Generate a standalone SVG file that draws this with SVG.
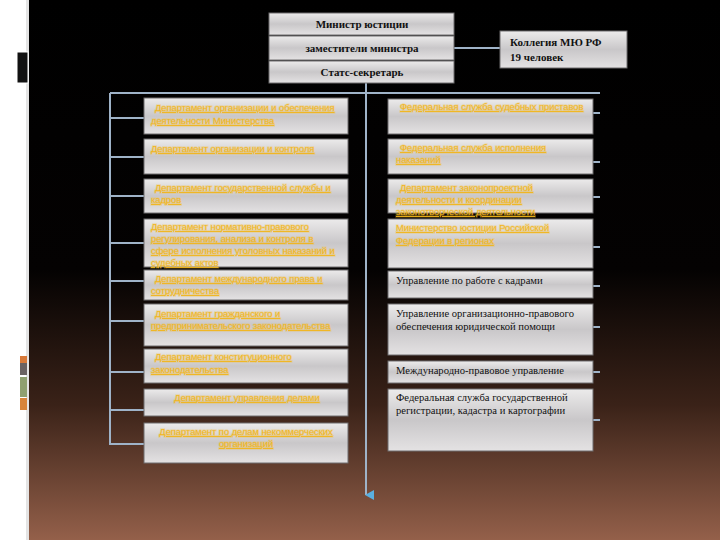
<svg xmlns="http://www.w3.org/2000/svg" width="720" height="540" viewBox="0 0 720 540">
<defs>
<linearGradient id="bg" x1="0" y1="0" x2="0" y2="1">
<stop offset="0" stop-color="#000"/>
<stop offset="0.5" stop-color="#040202"/>
<stop offset="0.75" stop-color="#3a2218"/>
<stop offset="1" stop-color="#94604a"/>
</linearGradient>
<linearGradient id="box" x1="0" y1="0" x2="0" y2="1">
<stop offset="0" stop-color="#ecebeb"/>
<stop offset="0.5" stop-color="#c9c7c9"/>
<stop offset="1" stop-color="#e4e2e3"/>
</linearGradient>
<marker id="arr" markerWidth="10" markerHeight="10" refX="5" refY="8" orient="auto" markerUnits="userSpaceOnUse">
<path d="M0,0 L10,0 L5,9 Z" fill="#5ab0e0"/>
</marker>
</defs>
<style>
.b{fill:url(#box);stroke:#6e6c6e;stroke-width:1}
.t{font-family:"Liberation Serif","DejaVu Serif",serif;font-size:10.6px;fill:#111}
.h{font-family:"Liberation Serif","DejaVu Serif",serif;font-size:11px;font-weight:bold;fill:#111}
.y{font-family:"Liberation Sans","DejaVu Sans",sans-serif;font-size:9.3px;fill:#f2b51c;text-decoration:underline;stroke:rgba(245,190,40,0.3);stroke-width:1.6;paint-order:stroke}
.c{fill:none;stroke:#9fb3c8;stroke-width:2}
</style>
<rect width="720" height="540" fill="#fff"/>
<rect x="26" y="0" width="3" height="540" fill="#e4e4e4"/>
<rect x="29" y="0" width="691" height="540" fill="url(#bg)"/>
<rect x="17" y="52" width="11" height="31" fill="#111" stroke="#fff" stroke-width="1"/>
<rect x="20" y="356" width="7" height="7" fill="#d87a3a"/>
<rect x="20" y="363" width="7" height="12" fill="#6a6262"/>
<rect x="20" y="377" width="7" height="20" fill="#8fa070"/>
<rect x="20" y="398" width="7" height="12" fill="#d8843a"/>

<g id="connectors">
<line class="c" x1="454" y1="48" x2="500" y2="48"/>
<line class="c" x1="366" y1="83" x2="366" y2="495" marker-end="url(#arr)"/>
<line class="c" x1="110" y1="93" x2="600" y2="93"/>
<line class="c" x1="110" y1="93" x2="110" y2="445"/>
<line class="c" x1="110" y1="118" x2="144" y2="118"/>
<line class="c" x1="110" y1="157" x2="144" y2="157"/>
<line class="c" x1="110" y1="196" x2="144" y2="196"/>
<line class="c" x1="110" y1="243" x2="144" y2="243"/>
<line class="c" x1="110" y1="281" x2="144" y2="281"/>
<line class="c" x1="110" y1="321" x2="144" y2="321"/>
<line class="c" x1="110" y1="372" x2="144" y2="372"/>
<line class="c" x1="110" y1="410" x2="144" y2="410"/>
<line class="c" x1="110" y1="444" x2="144" y2="444"/>
<line class="c" x1="593" y1="113" x2="600" y2="113"/>
<line class="c" x1="593" y1="162" x2="600" y2="162"/>
<line class="c" x1="593" y1="197" x2="600" y2="197"/>
<line class="c" x1="593" y1="247" x2="600" y2="247"/>
<line class="c" x1="593" y1="286" x2="600" y2="286"/>
<line class="c" x1="593" y1="327" x2="600" y2="327"/>
<line class="c" x1="593" y1="372" x2="600" y2="372"/>
<line class="c" x1="593" y1="420" x2="600" y2="420"/>
</g>

<g id="top">
<rect class="b" x="269" y="13" width="185" height="22"/>
<text class="h" x="362" y="28" text-anchor="middle">Министр юстиции</text>
<rect class="b" x="269" y="36" width="185" height="24"/>
<text class="h" x="362" y="52" text-anchor="middle">заместители министра</text>
<rect class="b" x="269" y="61" width="185" height="22"/>
<text class="h" x="362" y="76" text-anchor="middle">Статс-секретарь</text>
</g>

<g id="kollegia">
<rect class="b" x="500" y="31" width="127" height="37"/>
<text class="h" x="510" y="46">Коллегия МЮ РФ</text>
<text class="h" x="510" y="61">19 человек</text>
</g>

<g id="l1"><rect class="b" x="144" y="98" width="204" height="36"/>
<text class="y" x="155" y="111">Департамент организации и обеспечения</text>
<text class="y" x="151" y="124">деятельности Министерства</text></g>
<g id="l2"><rect class="b" x="144" y="139" width="204" height="35"/>
<text class="y" x="151" y="152">Департамент организации и контроля</text></g>
<g id="l3"><rect class="b" x="144" y="179" width="204" height="34"/>
<text class="y" x="155" y="191">Департамент государственной службы и</text>
<text class="y" x="151" y="203">кадров</text></g>
<g id="l4"><rect class="b" x="144" y="219" width="204" height="48"/>
<text class="y" x="151" y="230">Департамент нормативно-правового</text>
<text class="y" x="151" y="242">регулирования, анализа и контроля в</text>
<text class="y" x="151" y="254">сфере исполнения уголовных наказаний и</text>
<text class="y" x="151" y="266">судебных актов</text></g>
<g id="l5"><rect class="b" x="144" y="270" width="204" height="30"/>
<text class="y" x="155" y="282">Департамент международного права и</text>
<text class="y" x="151" y="294">сотрудничества</text></g>
<g id="l6"><rect class="b" x="144" y="304" width="204" height="42"/>
<text class="y" x="155" y="317">Департамент гражданского и</text>
<text class="y" x="151" y="329">предпринимательского законодательства</text></g>
<g id="l7"><rect class="b" x="144" y="349" width="204" height="34"/>
<text class="y" x="155" y="360">Департамент конституционного</text>
<text class="y" x="151" y="373">законодательства</text></g>
<g id="l8"><rect class="b" x="144" y="389" width="204" height="27"/>
<text class="y" x="247" y="401" text-anchor="middle">Департамент управления делами</text></g>
<g id="l9"><rect class="b" x="144" y="423" width="204" height="40"/>
<text class="y" x="246" y="435" text-anchor="middle">Департамент по делам некоммерческих</text>
<text class="y" x="246" y="447" text-anchor="middle">организаций</text></g>

<g id="r1"><rect class="b" x="388" y="99" width="205" height="35"/>
<text class="y" x="400" y="110">Федеральная служба судебных приставов</text></g>
<g id="r2"><rect class="b" x="388" y="139" width="205" height="35"/>
<text class="y" x="400" y="151">Федеральная служба исполнения</text>
<text class="y" x="396" y="163">наказаний</text></g>
<g id="r3"><rect class="b" x="388" y="179" width="205" height="34"/>
<text class="y" x="400" y="191">Департамент законопроектной</text>
<text class="y" x="396" y="203">деятельности и координации</text>
<text class="y" x="396" y="215">законотворческой деятельности</text></g>
<g id="r4"><rect class="b" x="388" y="219" width="205" height="49"/>
<text class="y" x="396" y="231">Министерство юстиции Российской</text>
<text class="y" x="396" y="244">Федерации в регионах</text></g>
<g id="r5"><rect class="b" x="388" y="271" width="205" height="27"/>
<text class="t" x="396" y="284">Управление по работе с кадрами</text></g>
<g id="r6"><rect class="b" x="388" y="304" width="205" height="51"/>
<text class="t" x="396" y="317">Управление организационно-правового</text>
<text class="t" x="396" y="330">обеспечения юридической помощи</text></g>
<g id="r7"><rect class="b" x="388" y="361" width="205" height="22"/>
<text class="t" x="396" y="374">Международно-правовое управление</text></g>
<g id="r8"><rect class="b" x="388" y="389" width="205" height="62"/>
<text class="t" x="396" y="401">Федеральная служба государственной</text>
<text class="t" x="396" y="414">регистрации, кадастра и картографии</text></g>
</svg>
